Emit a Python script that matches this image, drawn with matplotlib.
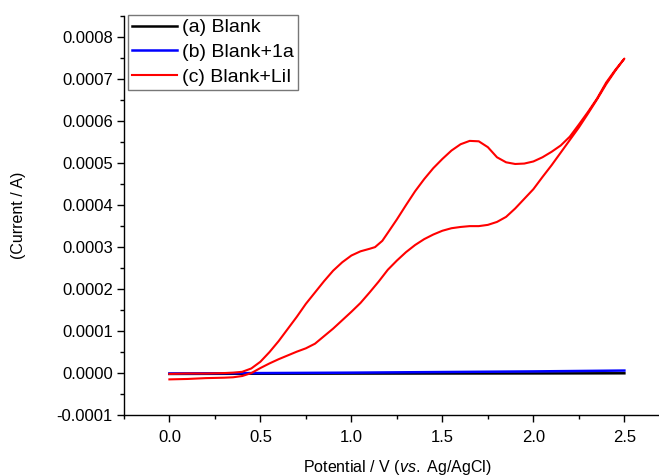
import numpy as np
import matplotlib
matplotlib.use("Agg")
import matplotlib.pyplot as plt
from matplotlib.ticker import MultipleLocator

plt.rcParams['font.family'] = 'Liberation Sans'
plt.rcParams['mathtext.fontset'] = 'custom'
plt.rcParams['mathtext.rm'] = 'Liberation Sans'
plt.rcParams['mathtext.it'] = 'Liberation Sans:italic'

# potential (V) for the flat blank scans
V_blank = [0.0, 0.5, 1.0, 1.5, 2.0, 2.5]
I_blank = [-2e-6, -1.5e-6, -1.2e-6, -1e-6, -0.8e-6, -0.5e-6]
I_blank_1a = [-1e-6, 0.0, 1e-6, 2.5e-6, 4e-6, 6e-6]

# LiI scan, forward branch 0 -> 2.5 V (units of 1e-4 A)
V_fwd = [0.00, 0.10, 0.20, 0.30, 0.35, 0.40, 0.45, 0.50, 0.55, 0.60, 0.65, 0.70,
         0.75, 0.80, 0.85, 0.90, 0.95, 1.00, 1.05, 1.10, 1.13, 1.17, 1.20, 1.25,
         1.30, 1.35, 1.40, 1.45, 1.50, 1.55, 1.60, 1.65, 1.70, 1.75, 1.80, 1.85,
         1.90, 1.95, 2.00, 2.05, 2.10, 2.15, 2.20, 2.25, 2.30, 2.35, 2.40, 2.45, 2.50]
I_fwd = [-0.02, -0.01, -0.01, 0.0, 0.01, 0.03, 0.11, 0.27, 0.50, 0.76, 1.05, 1.34,
         1.65, 1.92, 2.19, 2.44, 2.64, 2.80, 2.90, 2.96, 3.00, 3.15, 3.34, 3.66,
         4.00, 4.33, 4.62, 4.88, 5.10, 5.30, 5.45, 5.53, 5.52, 5.38, 5.14, 5.02,
         4.98, 4.99, 5.04, 5.14, 5.27, 5.42, 5.63, 5.92, 6.22, 6.54, 6.92, 7.22, 7.49]

# reverse branch 2.5 -> 0 V
V_rev = [2.50, 2.45, 2.40, 2.35, 2.30, 2.25, 2.20, 2.15, 2.10, 2.05, 2.00, 1.95,
         1.90, 1.85, 1.80, 1.75, 1.70, 1.65, 1.60, 1.55, 1.50, 1.45, 1.40, 1.35,
         1.30, 1.25, 1.20, 1.15, 1.10, 1.05, 1.00, 0.95, 0.90, 0.85, 0.80, 0.75,
         0.70, 0.65, 0.60, 0.55, 0.50, 0.45, 0.40, 0.35, 0.30, 0.20, 0.10, 0.00]
I_rev = [7.49, 7.20, 6.88, 6.52, 6.18, 5.85, 5.55, 5.25, 4.95, 4.67, 4.38, 4.15,
         3.92, 3.72, 3.60, 3.53, 3.50, 3.50, 3.48, 3.45, 3.39, 3.30, 3.19, 3.05,
         2.88, 2.68, 2.46, 2.18, 1.92, 1.67, 1.46, 1.26, 1.06, 0.88, 0.70, 0.59,
         0.51, 0.42, 0.33, 0.23, 0.12, 0.0, -0.07, -0.10, -0.11, -0.12, -0.14, -0.15]

labels = ['(a) Blank', '(b) Blank+1a', '(c) Blank+LiI']

fig = plt.figure(figsize=(6.59, 4.76), dpi=100)
ax = fig.add_axes([0.188, 0.128, 0.8285, 0.838])

ax.plot(V_blank, I_blank, color='black', linewidth=1.8, label=labels[0])
ax.plot(V_blank, I_blank_1a, color='#0000ff', linewidth=1.8, label=labels[1])
V_lii = np.array(V_fwd + V_rev)
I_lii = np.array(I_fwd + I_rev) * 1e-4
ax.plot(V_lii, I_lii, color='#ff0000', linewidth=1.5, label=labels[2],
        solid_joinstyle='round')

ax.set_xlim(-0.25, 2.75)
ax.set_ylim(-0.0001, 0.00085)
ax.xaxis.set_major_locator(MultipleLocator(0.5))
ax.xaxis.set_minor_locator(MultipleLocator(0.25))
ax.yaxis.set_major_locator(MultipleLocator(0.0001))
ax.yaxis.set_minor_locator(MultipleLocator(0.00005))
ax.yaxis.set_major_formatter(matplotlib.ticker.FormatStrFormatter('%.4f'))
ax.xaxis.set_major_formatter(matplotlib.ticker.FormatStrFormatter('%.1f'))

for s in ['top', 'right']:
    ax.spines[s].set_visible(False)
for s in ['left', 'bottom']:
    ax.spines[s].set_linewidth(1.0)
ax.tick_params(which='major', direction='out', length=5, width=1, labelsize=12, pad=3)
ax.tick_params(which='minor', direction='out', length=3, width=1)
ax.tick_params(axis='x', which='major', pad=6)

ax.set_xlabel(r'Potential / V ($\mathit{vs.}$ Ag/AgCl)', fontsize=11.5, labelpad=9)
ax.set_ylabel('(Current / A)', fontsize=11.5, labelpad=22)

leg = fig.legend(loc='upper left', bbox_to_anchor=(128 / 659, 1 - 15 / 476),
                 fontsize=14, frameon=True, fancybox=False, edgecolor='#555555',
                 borderaxespad=0, borderpad=0.2, labelspacing=0.36,
                 handlelength=2.3, handletextpad=0.3)
leg.get_frame().set_linewidth(1.0)

fig.savefig('out.png', dpi=100)
